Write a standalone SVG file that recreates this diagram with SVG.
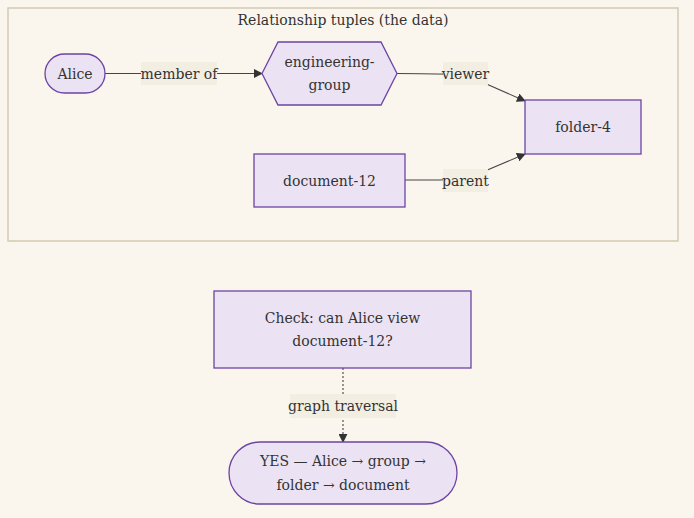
<svg xmlns="http://www.w3.org/2000/svg" width="694" height="518" viewBox="0 0 694 518">
<style>
text{font-family:"DejaVu Serif","Liberation Serif",serif;font-size:14px;fill:#333;text-anchor:middle;dominant-baseline:central}
.n{fill:#ebe3f3;stroke:#6d44a3;stroke-width:1.3}
.e{fill:none;stroke:#444;stroke-width:1.1}
.lb{fill:#f3eee2}
</style>
<defs>
<marker id="a" viewBox="0 0 10 10" refX="9" refY="5" markerWidth="9" markerHeight="9" orient="auto" markerUnits="userSpaceOnUse"><path d="M0,0L10,5L0,10z" fill="#333"/></marker>
</defs>
<rect width="694" height="518" fill="#faf6ee"/>
<g id="cluster">
<rect x="8" y="8" width="670" height="233" fill="#faf6ee" stroke="#d4cab2" stroke-width="1.5"/>
<text x="343" y="20">Relationship tuples (the data)</text>
</g>
<g id="edges">
<path class="e" d="M105,73.5H262" marker-end="url(#a)"/>
<path class="e" d="M397,73.5C420,73.5 440,74 465,74.5L525,101" marker-end="url(#a)"/>
<path class="e" d="M405,180C420,180 440,180 465,179.5L525,154" marker-end="url(#a)"/>
<path class="e" d="M343,368V442" stroke-dasharray="2,2" marker-end="url(#a)"/>
<rect class="lb" x="141" y="62" width="76" height="23"/>
<text x="179" y="73.5">member of</text>
<rect class="lb" x="443" y="62" width="45" height="23"/>
<text x="465.5" y="73.5">viewer</text>
<rect class="lb" x="443" y="169" width="45" height="23"/>
<text x="465.5" y="180.5">parent</text>
<rect class="lb" x="290" y="394" width="106" height="24"/>
<text x="343" y="405.5">graph traversal</text>
</g>
<g id="alice">
<rect class="n" x="45" y="54" width="60" height="39" rx="19.5"/>
<text x="75" y="73.5">Alice</text>
</g>
<g id="group">
<polygon class="n" points="262,73.5 278,42 381,42 397,73.5 381,105 278,105"/>
<text x="329.5" y="62">engineering-</text>
<text x="329.5" y="85">group</text>
</g>
<g id="folder">
<rect class="n" x="525" y="100" width="116" height="54"/>
<text x="583" y="127">folder-4</text>
</g>
<g id="document">
<rect class="n" x="254" y="154" width="151" height="53"/>
<text x="329.5" y="180.5">document-12</text>
</g>
<g id="check">
<rect class="n" x="214" y="291" width="257" height="77"/>
<text x="342.5" y="318">Check: can Alice view</text>
<text x="342.5" y="341">document-12?</text>
</g>
<g id="yes">
<rect class="n" x="229" y="442" width="228" height="62" rx="31"/>
<text x="343" y="461">YES — Alice → group →</text>
<text x="343" y="485">folder → document</text>
</g>
</svg>
